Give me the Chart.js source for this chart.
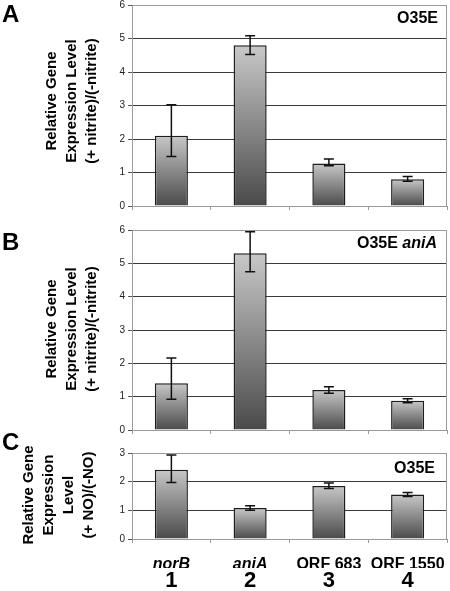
<!DOCTYPE html>
<html lang="en">
<head>
<meta charset="UTF-8">
<title>Relative gene expression</title>
<script src="https://cdn.jsdelivr.net/npm/chart.js"></script>
<style>
  body { margin: 0; background: #fff; font-family: "Liberation Sans", Arial, sans-serif; color: #000; }
  #wrap { position: relative; width: 450px; height: 591px; overflow: hidden; }
  canvas { position: absolute; left: 0; }
  .letter { position: absolute; left: 2px; font-weight: bold; font-size: 24px; line-height: 1; }
  .ytitle { position: absolute; width: 200px; font-weight: bold; font-size: 15px; line-height: 20px; text-align: center; transform: rotate(-90deg); }
  .tag { position: absolute; font-weight: bold; font-size: 16px; line-height: 16px; white-space: nowrap; }
</style>
</head>
<body>
<div id="wrap">
  <canvas id="chartA" width="450" height="213" style="top:0px"></canvas>
  <canvas id="chartB" width="450" height="215" style="top:222px"></canvas>
  <canvas id="chartC" width="450" height="145" style="top:445px"></canvas>

  <div class="letter" style="top:2px">A</div>
  <div class="letter" style="top:230px">B</div>
  <div class="letter" style="top:430px">C</div>

  <div class="ytitle" style="left:-29px; top:71px; height:60px">Relative Gene<br>Expression Level<br>(+ nitrite)/(-nitrite)</div>
  <div class="ytitle" style="left:-29px; top:299px; height:60px">Relative Gene<br>Expression Level<br>(+ nitrite)/(-nitrite)</div>
  <div class="ytitle" style="left:-42px; top:455px; height:80px">Relative Gene<br>Expression<br>Level<br>(+ NO)/(-NO)</div>

  <div class="tag" style="right:12px; top:10px">O35E</div>
  <div class="tag" style="right:13px; top:235px">O35E <i>aniA</i></div>
  <div class="tag" style="right:15px; top:460px">O35E</div>
</div>

<script>
    // Categories (shared by all three panels)
    const categories = ['norB', 'aniA', 'ORF 683', 'ORF 1550'];
    const categoryNumbers = ['1', '2', '3', '4'];
    const italicNames = [true, true, false, false];

    // Panel A: O35E, nitrite
    const valuesA = [2.1, 4.8, 1.27, 0.8];
    const errHighA = [3.02, 5.08, 1.4, 0.88];
    const errLowA = [1.48, 4.52, 1.2, 0.74];

    // Panel B: O35E aniA, nitrite
    const valuesB = [1.4, 5.3, 1.2, 0.88];
    const errHighB = [2.16, 5.95, 1.3, 0.94];
    const errLowB = [0.92, 4.75, 1.1, 0.82];

    // Panel C: O35E, NO
    const valuesC = [2.42, 1.08, 1.85, 1.55];
    const errHighC = [2.93, 1.16, 1.95, 1.62];
    const errLowC = [1.97, 1.0, 1.76, 1.48];

    const fontFamily = '"Liberation Sans", Arial, sans-serif';
    const axisGray = '#9a9a9a';
    const gridDark = '#3a3a3a';

    // Vertical grey gradient per bar, light at the top, dark at the base
    function barGradient(ctx) {
        const chart = ctx.chart;
        if (!chart.chartArea || ctx.type !== 'data') return '#888';
        const y = chart.scales.y;
        const top = y.getPixelForValue(ctx.raw);
        const base = y.getPixelForValue(0);
        const g = chart.ctx.createLinearGradient(0, top, 0, base);
        g.addColorStop(0, '#c8c8c8');
        g.addColorStop(1, '#4a4a4a');
        return g;
    }

    // Frame on the right side plus the error bars
    const errorBars = {
        id: 'errorBars',
        beforeDatasetsDraw(chart) {
            const { ctx, chartArea: a } = chart;
            ctx.save();
            ctx.strokeStyle = axisGray;
            ctx.lineWidth = 1;
            ctx.beginPath();
            ctx.moveTo(a.right - 0.5, a.top);
            ctx.lineTo(a.right - 0.5, a.bottom);
            ctx.stroke();
            ctx.restore();
        },
        afterDatasetsDraw(chart, args, opts) {
            const { ctx, scales: { x, y } } = chart;
            ctx.save();
            ctx.strokeStyle = '#111';
            ctx.lineWidth = 1.5;
            opts.high.forEach((h, i) => {
                const px = x.getPixelForValue(i);
                const yh = y.getPixelForValue(h);
                const yl = y.getPixelForValue(opts.low[i]);
                ctx.beginPath();
                ctx.moveTo(px, yh); ctx.lineTo(px, yl);
                ctx.moveTo(px - 5, yh); ctx.lineTo(px + 5, yh);
                ctx.moveTo(px - 5, yl); ctx.lineTo(px + 5, yl);
                ctx.stroke();
            });
            ctx.restore();
        }
    };

    function createPanel(canvasId, values, high, low, yMax, padTop, withLabels) {
        const scales = {
            x: {
                offset: true,
                weight: 0,
                grid: { drawOnChartArea: false, tickLength: 4, color: axisGray, offset: true },
                border: { color: axisGray },
                ticks: {
                    display: withLabels,
                    padding: 12,
                    color: '#000',
                    maxRotation: 0,
                    autoSkip: false,
                    font: c => ({ family: fontFamily, size: 16, weight: 'bold', style: italicNames[c.index] ? 'italic' : 'normal' })
                },
                afterFit: s => { s.height = withLabels ? 29 : 5; s.paddingLeft = 0; s.paddingRight = 0; }
            },
            y: {
                min: 0,
                max: yMax,
                grid: {
                    color: c => (c.tick.value === 0 || c.tick.value === yMax) ? axisGray : gridDark,
                    tickColor: '#555',
                    tickLength: 4
                },
                border: { color: axisGray },
                ticks: { stepSize: 1, padding: 3, color: '#222', font: { family: fontFamily, size: 10 } },
                afterFit: s => { s.width = 132; s.paddingTop = 0; s.paddingBottom = 0; }
            }
        };
        if (withLabels) {
            scales.x2 = {
                type: 'category',
                labels: categoryNumbers,
                position: 'bottom',
                offset: true,
                weight: 1,
                grid: { display: false, drawTicks: false },
                border: { display: false },
                ticks: { padding: 0, color: '#000', font: { family: fontFamily, size: 22, weight: 'bold' } },
                afterFit: s => { s.height = 20; s.paddingLeft = 0; s.paddingRight = 0; }
            };
        }
        return new Chart(document.getElementById(canvasId), {
            type: 'bar',
            data: {
                labels: categories,
                datasets: [{
                    data: values,
                    xAxisID: 'x',
                    backgroundColor: barGradient,
                    borderColor: '#1e1e1e',
                    borderWidth: 1.5,
                    categoryPercentage: 1,
                    barPercentage: 0.42
                }]
            },
            options: {
                responsive: false,
                animation: false,
                layout: { padding: { top: padTop, right: 3, bottom: 2, left: 0 } },
                plugins: {
                    legend: { display: false },
                    tooltip: { enabled: false },
                    errorBars: { high: high, low: low }
                },
                scales: scales
            },
            plugins: [errorBars]
        });
    }

    createPanel('chartA', valuesA, errHighA, errLowA, 6, 5, false);
    createPanel('chartB', valuesB, errHighB, errLowB, 6, 8, false);
    createPanel('chartC', valuesC, errHighC, errLowC, 3, 8, true);
</script>
</body>
</html>
